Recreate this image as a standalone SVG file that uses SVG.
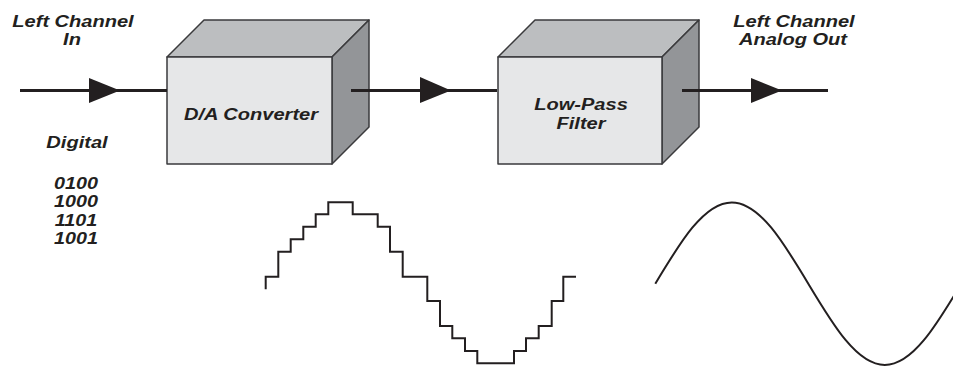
<svg xmlns="http://www.w3.org/2000/svg" width="953" height="367" viewBox="0 0 953 367">
<style>
.t{font-family:"Liberation Sans",Arial,sans-serif;font-weight:bold;font-style:italic;font-size:17px;fill:#231f20;text-anchor:middle}
.d{font-size:16.5px}
.front{fill:#e6e7e8;stroke:#3a3a3c;stroke-width:1.5;stroke-linejoin:round}
.top{fill:#bcbec0;stroke:#3a3a3c;stroke-width:1.5;stroke-linejoin:round}
.side{fill:#939598;stroke:#3a3a3c;stroke-width:1.5;stroke-linejoin:round}
.ln{stroke:#231f20;stroke-width:3;fill:none}
.ah{fill:#231f20}
.wave{stroke:#231f20;stroke-width:2;fill:none}
</style>
<g id="labels">
<text class="t" transform="translate(73,27) scale(1.18,1)">Left Channel</text>
<text class="t" transform="translate(72,45) scale(1.18,1)">In</text>
<text class="t" transform="translate(77,148) scale(1.18,1)">Digital</text>
<text class="t d" transform="translate(76,189) scale(1.2,1)">0100</text>
<text class="t d" transform="translate(76,207.3) scale(1.2,1)">1000</text>
<text class="t d" transform="translate(76,225.6) scale(1.2,1)">1101</text>
<text class="t d" transform="translate(76,244) scale(1.2,1)">1001</text>
<text class="t" transform="translate(794,27) scale(1.18,1)">Left Channel</text>
<text class="t" transform="translate(793,45) scale(1.18,1)">Analog Out</text>
</g>
<g id="da-converter">
<polygon class="top" points="167,57 204,20 369,20 332,57"/>
<polygon class="side" points="332,57 369,20 369,127 332,164"/>
<rect class="front" x="167" y="57" width="165" height="107"/>
<text class="t" transform="translate(251,120) scale(1.18,1)">D/A Converter</text>
</g>
<g id="low-pass-filter">
<polygon class="top" points="498,57 535,20 699,20 662,57"/>
<polygon class="side" points="662,57 699,20 699,127 662,164"/>
<rect class="front" x="498" y="57" width="164" height="107"/>
<text class="t" transform="translate(581,110) scale(1.18,1)">Low-Pass</text>
<text class="t" transform="translate(581,129) scale(1.18,1)">Filter</text>
</g>
<g id="connectors">
<line class="ln" x1="20" y1="90.5" x2="167" y2="90.5"/>
<polygon class="ah" points="89,78 120,90.5 89,103"/>
<line class="ln" x1="351" y1="90.5" x2="497" y2="90.5"/>
<polygon class="ah" points="420,77 451,90.5 420,103"/>
<line class="ln" x1="682" y1="90.5" x2="828" y2="90.5"/>
<polygon class="ah" points="751,78 782,90.5 751,103"/>
</g>
<g id="staircase">
<path class="wave" d="M265.7,289.3 V276.7 H278.3 V251.7 H290.7 V239.3 H303.3 V226.7 H315.7 V214.3 H328.3 V202.3 H352.7 V214.3 H377.7 V226.7 H390 V251.7 H402.7 V276.7 H427.3 V301 H440 V326 H452.3 V338.3 H465 V351 H477.3 V363.3 H514 V351 H526 V338.3 H538.7 V326 H551.7 V301 H563.3 V276.7 H576"/>
</g>
<g id="sine">
<path class="wave" d="M655.3,283.7 C680.25,242.05 704.11,202.4 731.8,202.4 C759.49,202.4 783.35,242.05 808.3,283.7 C833.25,325.35 857.11,365 884.8,365 C912.49,365 936.35,325.35 961.3,283.7"/>
</g>
</svg>
